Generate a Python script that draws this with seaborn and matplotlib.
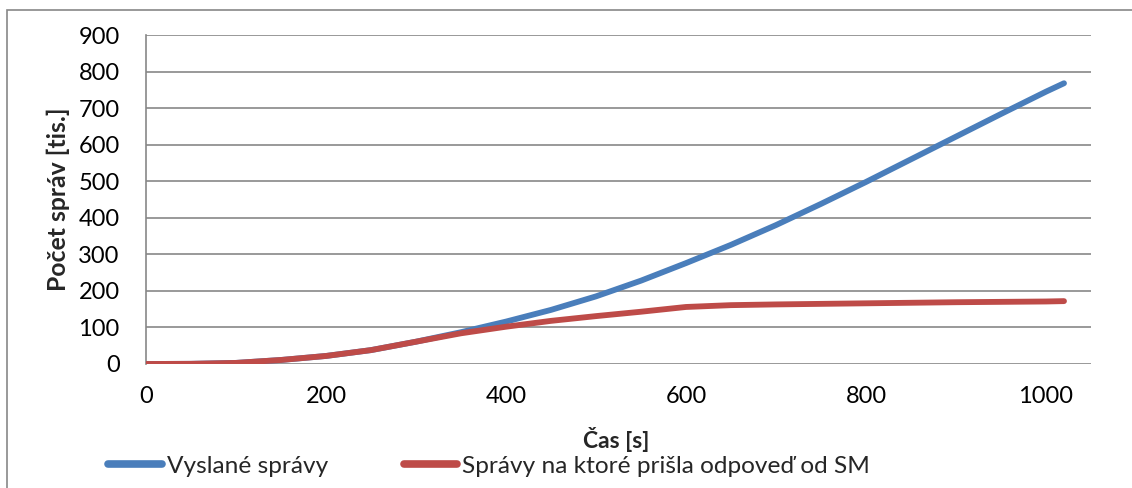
import matplotlib
matplotlib.use("Agg")
import matplotlib.pyplot as plt
import seaborn as sns
import pandas as pd
from matplotlib.patches import Rectangle
from matplotlib.lines import Line2D

# ---- data ----
time_s = [0, 50, 100, 150, 200, 250, 300, 350, 400, 450, 500, 550, 600,
          650, 700, 750, 800, 850, 900, 950, 1000, 1020]
sent = [0, 0.5, 3, 11, 22, 38, 61, 87, 116, 148, 185, 228, 276,
        326, 380, 438, 498, 560, 622, 684, 745, 768]
answered = [0, 0.5, 3, 11, 22, 38, 61, 84, 102, 118, 131, 143, 156,
            161, 163, 164.5, 166, 167.5, 169, 170, 171, 172]
series_names = ["Vyslané správy", "Správy na ktoré prišla odpoveď od SM"]
colors = ["#4A7EBB", "#BE4B48"]
x_ticks = [0, 200, 400, 600, 800, 1000]
y_ticks = [0, 100, 200, 300, 400, 500, 600, 700, 800, 900]

df = pd.DataFrame({
    "t": time_s * 2,
    "v": sent + answered,
    "s": [series_names[0]] * len(time_s) + [series_names[1]] * len(time_s),
})

sns.set_style("white")
plt.rcParams["font.family"] = ["Lato", "DejaVu Sans"]

fig = plt.figure(figsize=(11.32, 4.88), dpi=100)
ax = fig.add_axes([146 / 1132, 1 - 364 / 488, (1091 - 146) / 1132, (364 - 35) / 488])

sns.lineplot(data=df, x="t", y="v", hue="s", hue_order=series_names,
             palette=colors, linewidth=4.2, ax=ax, legend=False,
             solid_capstyle="round", solid_joinstyle="round", zorder=3)

ax.set_xlim(0, 1050)
ax.set_ylim(0, 900)
ax.set_xticks(x_ticks)
ax.set_yticks(y_ticks)
ax.tick_params(axis="both", length=0, labelsize=17, colors="black")
ax.tick_params(axis="y", pad=19)
ax.tick_params(axis="x", pad=16)
ax.yaxis.grid(True, color="#878787", linewidth=1.2)
ax.xaxis.grid(False)
for side in ["top", "right", "bottom"]:
    ax.spines[side].set_visible(False)
ax.spines["left"].set_color("#878787")
ax.spines["left"].set_linewidth(1.2)

ax.set_xlabel("Čas [s]", fontsize=16.5, fontweight="bold", va="center")
ax.xaxis.set_label_coords(0.498, -0.231)
ax.set_ylabel("Počet správ [tis.]", fontsize=17.8, fontweight="bold", va="center")
ax.yaxis.set_label_coords(-0.093, 0.5)

handles = [Line2D([0], [0], color=c, linewidth=5.5, solid_capstyle="round") for c in colors]
fig.legend(handles, series_names, loc="center left",
           bbox_to_anchor=(108 / 1132, 1 - 466 / 488), ncol=2, frameon=False,
           fontsize=17.6, handlelength=2.2, handletextpad=0.2,
           columnspacing=3.1, borderaxespad=0, borderpad=0)

fig.patches.append(Rectangle((7 / 1132, -0.1), 1.2, 1 - 10 / 488 + 0.1,
                             transform=fig.transFigure, fill=False,
                             edgecolor="#878787", linewidth=1.2))

fig.savefig("out.png", dpi=100, facecolor="white")
